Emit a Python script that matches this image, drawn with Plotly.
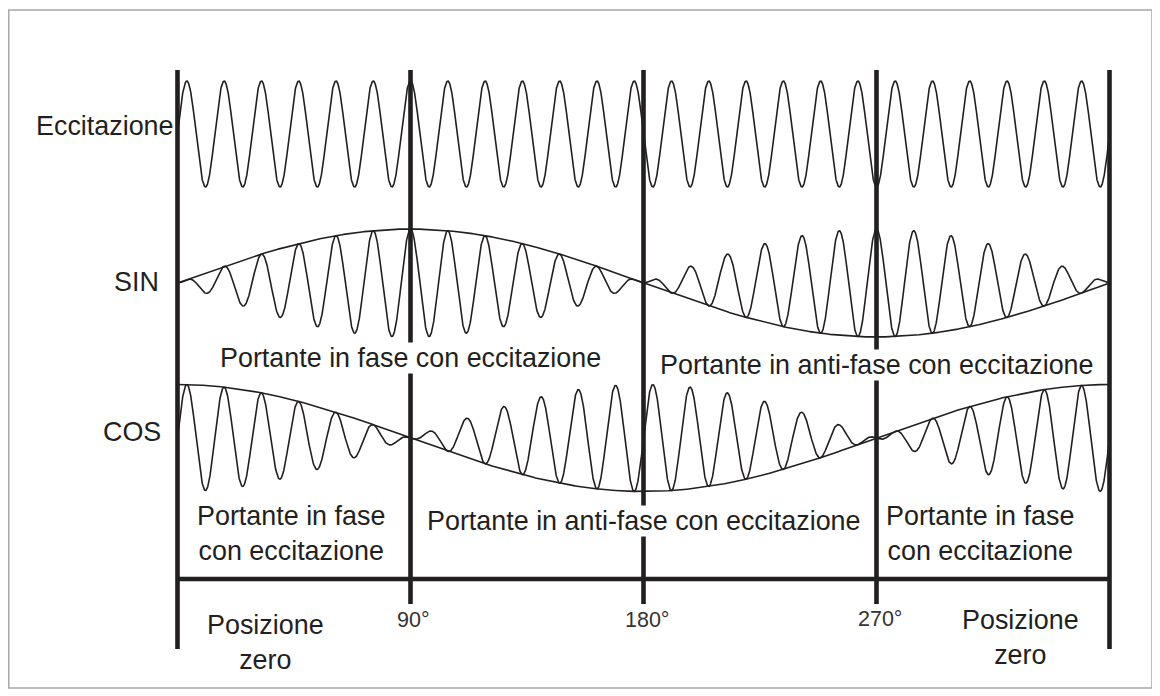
import numpy as np
import plotly.graph_objects as go

# ---------------- data ----------------
ANGLE_START, ANGLE_END = 0, 360          # rotor position (degrees)
CARRIER_CYCLES = 25                       # excitation cycles per revolution (counted on picture)
DIVISIONS_DEG = [0, 90, 180, 270, 360]   # vertical separators
TICK_DEG = [90, 180, 270]
TICK_LABELS = ["90°", "180°", "270°"]
ROW_LABELS = ["Eccitazione", "SIN", "COS"]

theta = np.linspace(ANGLE_START, ANGLE_END, 4001)
excitation = np.sin(np.deg2rad(theta) * CARRIER_CYCLES)
sin_env = np.sin(np.deg2rad(theta))
cos_env = np.cos(np.deg2rad(theta))
sin_signal = sin_env * excitation
cos_signal = cos_env * excitation

# ---------------- layout constants (screen-pixel-like y units) ----------------
PAGE_MARGIN = 8                     # default body margin of the html page
W, H = 1160 - PAGE_MARGIN, 696 - PAGE_MARGIN
PX0, PX360 = 177.5, 1109.5          # screen x of 0° and 360°
scale = (PX360 - PX0) / 360.0
x_lo = -(PX0 - PAGE_MARGIN) / scale
x_hi = x_lo + W / scale

ROW_Y = {"exc": 134, "sin": 283, "cos": 438}
AMP = {"exc": 53, "sin": 54, "cos": 53.5}
INK = "#231f20"
FONT = "Liberation Sans, Arial, Helvetica, sans-serif"

fig = go.Figure()

def wave(y, row, width=1.6):
    fig.add_trace(go.Scatter(
        x=theta, y=ROW_Y[row] - AMP[row] * y, mode="lines",
        line=dict(color=INK, width=width), hoverinfo="skip", showlegend=False))

wave(excitation, "exc")
wave(sin_signal, "sin")
wave(sin_env, "sin")
wave(cos_signal, "cos")
wave(cos_env, "cos")

# separators: full-height at ends, tick-length in middle
TOP_Y, BASE_Y, TICK_END_Y, END_Y = 70, 579, 604, 649
for d in DIVISIONS_DEG:
    bottom = END_Y if d in (ANGLE_START, ANGLE_END) else TICK_END_Y
    fig.add_trace(go.Scatter(x=[d, d], y=[TOP_Y, bottom], mode="lines",
                             line=dict(color=INK, width=4.6),
                             hoverinfo="skip", showlegend=False))
fig.add_trace(go.Scatter(x=[ANGLE_START, ANGLE_END], y=[BASE_Y, BASE_Y], mode="lines",
                         line=dict(color=INK, width=4.6),
                         hoverinfo="skip", showlegend=False))

ann = []
def txt(x, y, s, size=26.9, xanchor="center", bg=None, color=INK):
    d = dict(x=x, y=y, xref="x", yref="y", text=s, showarrow=False,
             xanchor=xanchor, yanchor="middle",
             font=dict(family=FONT, size=size, color=color), borderpad=0)
    if bg:
        d["bgcolor"] = bg
    ann.append(d)

txt(-1.0, 126, ROW_LABELS[0], xanchor="right")
txt(-6.8, 282, ROW_LABELS[1], xanchor="right")
txt(-6.0, 432, ROW_LABELS[2], xanchor="right")

txt(90, 358, "Portante in fase con eccitazione", bg="white")
txt(270, 365, "Portante in anti-fase con eccitazione", bg="white")
txt(180, 521, "Portante in anti-fase con eccitazione", bg="white")
txt(44, 533, "Portante in fase<br>con eccitazione")
txt(310, 533, "Portante in fase<br>con eccitazione")
txt(34, 642, "Posizione<br>zero")
txt(325.5, 637, "Posizione<br>zero")

for d, lab, yy in zip(TICK_DEG, TICK_LABELS, [620, 620, 619]):
    txt(d + 1.2, yy, lab, size=21.5, color="#333333")

fig.update_layout(
    width=W, height=H,
    margin=dict(l=0, r=0, t=0, b=0),
    paper_bgcolor="white", plot_bgcolor="white",
    xaxis=dict(range=[x_lo, x_hi], visible=False, fixedrange=True),
    yaxis=dict(range=[H + PAGE_MARGIN, PAGE_MARGIN], visible=False, fixedrange=True),
    annotations=ann,
    shapes=[dict(type="rect", xref="paper", yref="paper",
                 x0=0.75 / W, x1=(1152 - PAGE_MARGIN) / W,
                 y0=1 - (688 - PAGE_MARGIN) / H, y1=1 - (10 - PAGE_MARGIN) / H,
                 line=dict(color="#a8a8a8", width=1.5), fillcolor="rgba(0,0,0,0)")],
    showlegend=False,
)

fig.write_html("out.html")
